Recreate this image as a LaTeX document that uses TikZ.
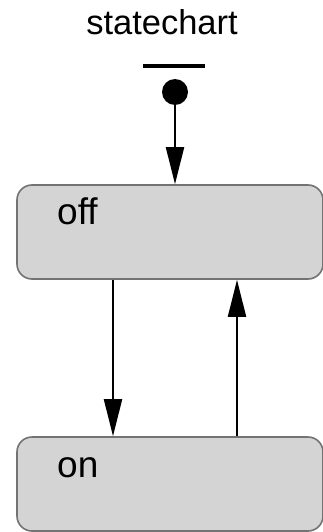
\documentclass[tikz,border=0pt]{standalone}
\usepackage{fontspec}
\setmainfont{Liberation Sans}
\usetikzlibrary{arrows.meta}
\begin{document}
\begin{tikzpicture}[x=1pt,y=1pt,
  statebox/.style={draw=black!55,line width=1.6pt,fill=black!17,rounded corners=15pt,
    minimum width=306pt,inner sep=0pt},
  lbl/.style={anchor=base west,inner sep=0pt,font=\fontsize{37}{40}\selectfont},
  trans/.style={line width=2pt,-{Triangle[length=37pt,width=18pt]}}]
\useasboundingbox (0,0) rectangle (323,-532);
\node[anchor=base,inner sep=0pt,font=\fontsize{34.5}{40}\selectfont] (title) at (162,-35) {statechart};
\node[fill=black,inner sep=0pt,minimum width=62pt,minimum height=4.5pt] (bar) at (173.5,-66) {};
\node[circle,fill=black,inner sep=0pt,minimum size=26pt] (init) at (175,-92) {};
\node[statebox,minimum height=94pt] (off) at (170,-232) {};
\node[statebox,minimum height=94pt] (on) at (170,-484) {};
\node[lbl] (offl) at (57,-224) {off};
\node[lbl] (onl) at (57,-477) {on};
\draw[trans] (init.center) -- (init.center |- off.north);
\draw[trans] ([xshift=-57pt]off.south) -- ([xshift=-57pt]on.north);
\draw[trans] ([xshift=67pt]on.north) -- ([xshift=67pt]off.south);
\end{tikzpicture}
\end{document}
